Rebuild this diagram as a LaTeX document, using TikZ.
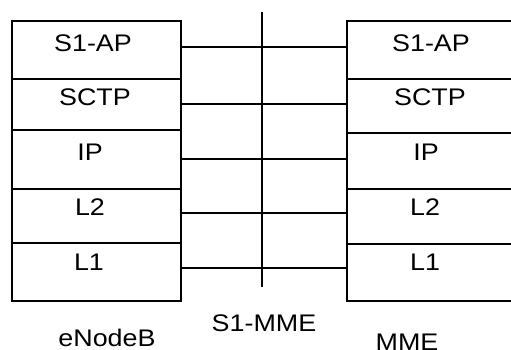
\documentclass[tikz,border=0pt]{standalone}
\usepackage{fontspec}
\setmainfont{Liberation Sans}[FakeStretch=1.12]
\begin{document}
\begin{tikzpicture}[x=1pt,y=-1pt,
  line width=1.6pt,
  layer/.style={draw, rectangle, inner sep=0pt, anchor=north west},
  lbl/.style={font=\fontsize{24}{28}\selectfont, anchor=base, inner sep=0pt},
  link/.style={line width=1.6pt}]
\useasboundingbox (0,0) rectangle (511,349);

% eNodeB protocol stack
\node[layer, minimum width=169pt, minimum height=58pt] (la) at (11,20) {};
\node[layer, minimum width=169pt, minimum height=51pt] (lb) at (11,78) {};
\node[layer, minimum width=169pt, minimum height=59pt] (lc) at (11,129) {};
\node[layer, minimum width=169pt, minimum height=54pt] (ld) at (11,188) {};
\node[layer, minimum width=169pt, minimum height=58pt] (le) at (11,242) {};
\node[lbl] (lta) at (93,51) {S1-AP};
\node[lbl] (ltb) at (95,105) {SCTP};
\node[lbl] (ltc) at (90,160) {IP};
\node[lbl] (ltd) at (90,215) {L2};
\node[lbl] (lte) at (89,270) {L1};

% MME protocol stack
\node[layer, minimum width=165pt, minimum height=58pt] (ra) at (346,20) {};
\node[layer, minimum width=165pt, minimum height=54pt] (rb) at (346,78) {};
\node[layer, minimum width=165pt, minimum height=56pt] (rc) at (346,132) {};
\node[layer, minimum width=165pt, minimum height=55pt] (rd) at (346,188) {};
\node[layer, minimum width=165pt, minimum height=57pt] (re) at (346,243) {};
\node[lbl] (rta) at (431,51) {S1-AP};
\node[lbl] (rtb) at (430,105) {SCTP};
\node[lbl] (rtc) at (426,160) {IP};
\node[lbl] (rtd) at (425,215) {L2};
\node[lbl] (rte) at (425,270) {L1};

% peer-to-peer links between the layers
\draw[link] ([xshift=-2pt]la.east |- 0,47) -- (ra.west |- 0,47);
\draw[link] ([xshift=-2pt]lb.east |- 0,104) -- (rb.west |- 0,104);
\draw[link] ([xshift=-2pt]lc.east |- 0,159) -- (rc.west |- 0,159);
\draw[link] ([xshift=-2pt]ld.east |- 0,213) -- (rd.west |- 0,213);
\draw[link] ([xshift=-2pt]le.east |- 0,268) -- (re.west |- 0,268);

% S1-MME reference point
\coordinate (itop) at (262,12);
\coordinate (ibot) at (262,287);
\draw[link] (itop) -- (ibot);

% captions
\node[lbl] (cenb) at (107,346) {eNodeB};
\node[lbl] (cif) at (264,331) {S1-MME};
\node[lbl] (cmme) at (407,350) {MME};
\end{tikzpicture}
\end{document}
